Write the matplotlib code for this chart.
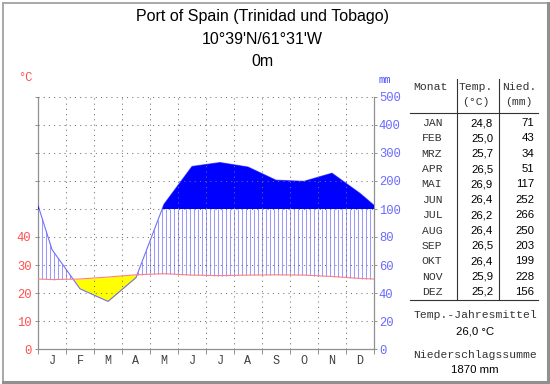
import numpy as np
import matplotlib
matplotlib.use("Agg")
import matplotlib.pyplot as plt
from matplotlib.lines import Line2D

# ---------------- data ----------------
title_lines = ["Port of Spain (Trinidad und Tobago)", "10°39'N/61°31'W", "0m"]
month_letters = ["J", "F", "M", "A", "M", "J", "J", "A", "S", "O", "N", "D"]
month_names = ["JAN", "FEB", "MRZ", "APR", "MAI", "JUN", "JUL", "AUG", "SEP", "OKT", "NOV", "DEZ"]
temp = [24.8, 25.0, 25.7, 26.5, 26.9, 26.4, 26.2, 26.4, 26.5, 26.4, 25.9, 25.2]
precip = [71, 43, 34, 51, 117, 252, 266, 250, 203, 199, 228, 156]
temp_ticks = [0, 10, 20, 30, 40]
precip_tick_labels = [0, 20, 40, 60, 80, 100, 200, 300, 400, 500]
mean_temp_text = "26,0 °C"
sum_precip_text = "1870 mm"

W, H = 550, 384
fig = plt.figure(figsize=(W / 100, H / 100), dpi=100)
fig.patch.set_facecolor("white")

def fx(x):
    return x / W

def fy(y):
    return 1 - y / H

MONO = "Liberation Mono"
SANS = "Liberation Sans"

def p2u(p):
    p = np.asarray(p, dtype=float)
    return np.where(p <= 100, p / 2.0, 50 + (p - 100) / 10.0)

# curve points: month centres plus wrap-around edges
T = np.array(temp)
P = np.array(precip, dtype=float)
t_edge = (T[0] + T[-1]) / 2
p_edge = (P[0] + P[-1]) / 2
xs = np.concatenate([[0], np.arange(12) + 0.5, [12]])
Tc = np.concatenate([[t_edge], T, [t_edge]])
Pc = p2u(np.concatenate([[p_edge], P, [p_edge]]))

# dense sampling for fills
xd = np.linspace(0, 12, 2401)
Td = np.interp(xd, xs, Tc)
Pd = np.interp(xd, xs, Pc)

ax = fig.add_axes([fx(38), fy(349), 336 / W, 252 / H])
ax.set_xlim(0, 12)
ax.set_ylim(0, 90)
ax.set_facecolor("white")

grid_kw = dict(color="#707070", lw=0.75, linestyle=(0, (1, 4)), zorder=4)
for yv in range(10, 91, 10):
    ax.plot([0, 12], [yv, yv], **grid_kw)
for xv in range(1, 12):
    ax.plot([xv, xv], [0, 90], **grid_kw)

# humid hatching
hx = np.arange(1, 84) / 7.0
hT = np.interp(hx, xs, Tc)
hP = np.interp(hx, xs, Pc)
mask = hP > hT
ax.vlines(hx[mask], hT[mask], np.minimum(hP[mask], 50), color="#9a9aff", lw=0.75, zorder=2)

# arid fill
ax.fill_between(xd, Pd, Td, where=Pd < Td, color="#ffff00", lw=0, zorder=2.6)
ax.plot(xs, Pc, color="#7070ff", lw=0.8, zorder=2.8)
# perhumid fill
ax.fill_between(xd, 50, Pd, where=Pd > 50, color="#0000ff", lw=0, zorder=3)

ax.plot(xs, Tc, color="#ff8080", lw=0.8, zorder=5)

ax.spines["top"].set_visible(False)
for s in ["left", "right", "bottom"]:
    ax.spines[s].set_color("#909090")
    ax.spines[s].set_linewidth(0.9)

ax.set_yticks(range(0, 91, 10))
ax.set_yticklabels([str(v) if v in temp_ticks else "" for v in range(0, 91, 10)])
ax.tick_params(axis="y", left=True, right=False, direction="out", length=2.3, width=0.7,
               color="#909090", pad=2.5, labelsize=8.7, labelcolor="#ff5050")
for lab in ax.get_yticklabels():
    lab.set_family(MONO)

ax.set_xticks(range(0, 13))
ax.set_xticklabels([])
ax.set_xticks(np.arange(12) + 0.5, minor=True)
ax.set_xticklabels(month_letters, minor=True)
ax.tick_params(axis="x", which="major", direction="out", length=3.5, width=0.7, color="#909090")
ax.tick_params(axis="x", which="minor", length=0, pad=4.5, labelsize=8.5, labelcolor="#404040")
for lab in ax.get_xticklabels(minor=True):
    lab.set_family(MONO)

ax2 = ax.twinx()
ax2.set_ylim(0, 90)
ax2.set_yticks(range(0, 91, 10))
ax2.set_yticklabels([str(v) for v in precip_tick_labels])
ax2.tick_params(axis="y", direction="out", length=2, width=0.7, color="#909090", pad=1.5,
                labelsize=8.7, labelcolor="#6a6aff")
for lab in ax2.get_yticklabels():
    lab.set_family(MONO)
for s in ax2.spines.values():
    s.set_visible(False)

fig.text(fx(25), fy(78), "°C", color="#ff5050", fontsize=8.7, family=MONO, ha="center", va="center")
fig.text(fx(385), fy(80), "mm", color="#5050ff", fontsize=7.5, family=MONO, ha="center", va="center")

# titles
for txt, yy in zip(title_lines, [17, 40, 62]):
    fig.text(fx(262), fy(yy), txt, fontsize=11.5, family=SANS, ha="center", va="center", color="black")

# table
tc = "#333333"
fig.text(fx(430), fy(87), "Monat", family=MONO, fontsize=8.2, color=tc, ha="center", va="center")
fig.text(fx(476), fy(87), "Temp.", family=MONO, fontsize=8.2, color=tc, ha="center", va="center")
fig.text(fx(476), fy(102), "(°C)", family=MONO, fontsize=8.2, color=tc, ha="center", va="center")
fig.text(fx(519), fy(87), "Nied.", family=MONO, fontsize=8.2, color=tc, ha="center", va="center")
fig.text(fx(519), fy(102), "(mm)", family=MONO, fontsize=8.2, color=tc, ha="center", va="center")

line_kw = dict(color="#333333", lw=0.8)
fig.add_artist(Line2D([fx(410), fx(538)], [fy(113), fy(113)], **line_kw))
fig.add_artist(Line2D([fx(410), fx(538)], [fy(300), fy(300)], **line_kw))
fig.add_artist(Line2D([fx(457), fx(457)], [fy(79), fy(300)], **line_kw))
fig.add_artist(Line2D([fx(499), fx(499)], [fy(79), fy(300)], **line_kw))

for i, (mn, t, p) in enumerate(zip(month_names, temp, precip)):
    yy = 123 + i * 15.36
    fig.text(fx(432), fy(yy), mn, family=MONO, fontsize=8.2, color=tc, ha="center", va="center")
    fig.text(fx(493), fy(yy), f"{t:.1f}".replace(".", ","), family=SANS, fontsize=8.2,
             color="black", ha="right", va="center")
    fig.text(fx(534), fy(yy), str(p), family=SANS, fontsize=8.2, color="black", ha="right", va="center")

fig.text(fx(475), fy(315), "Temp.-Jahresmittel", family=MONO, fontsize=8.2, color=tc, ha="center", va="center")
fig.text(fx(475), fy(331), mean_temp_text, family=SANS, fontsize=8.2, color="black", ha="center", va="center")
fig.text(fx(475), fy(355), "Niederschlagssumme", family=MONO, fontsize=8.2, color=tc, ha="center", va="center")
fig.text(fx(475), fy(370), sum_precip_text, family=SANS, fontsize=8.2, color="black", ha="center", va="center")

# outer frame
fk = dict(color="#a8a8a8", lw=1.4)
fig.add_artist(Line2D([fx(2.5), fx(547.5)], [fy(2.5), fy(2.5)], **fk))
fig.add_artist(Line2D([fx(2.5), fx(2.5)], [fy(2.5), fy(382)], **fk))
fk2 = dict(color="#909090", lw=2.2)
fig.add_artist(Line2D([fx(547.5), fx(547.5)], [fy(2.5), fy(382)], **fk2))
fig.add_artist(Line2D([fx(2.5), fx(547.5)], [fy(382), fy(382)], **fk2))

fig.savefig("out.png", dpi=100, facecolor="white")
